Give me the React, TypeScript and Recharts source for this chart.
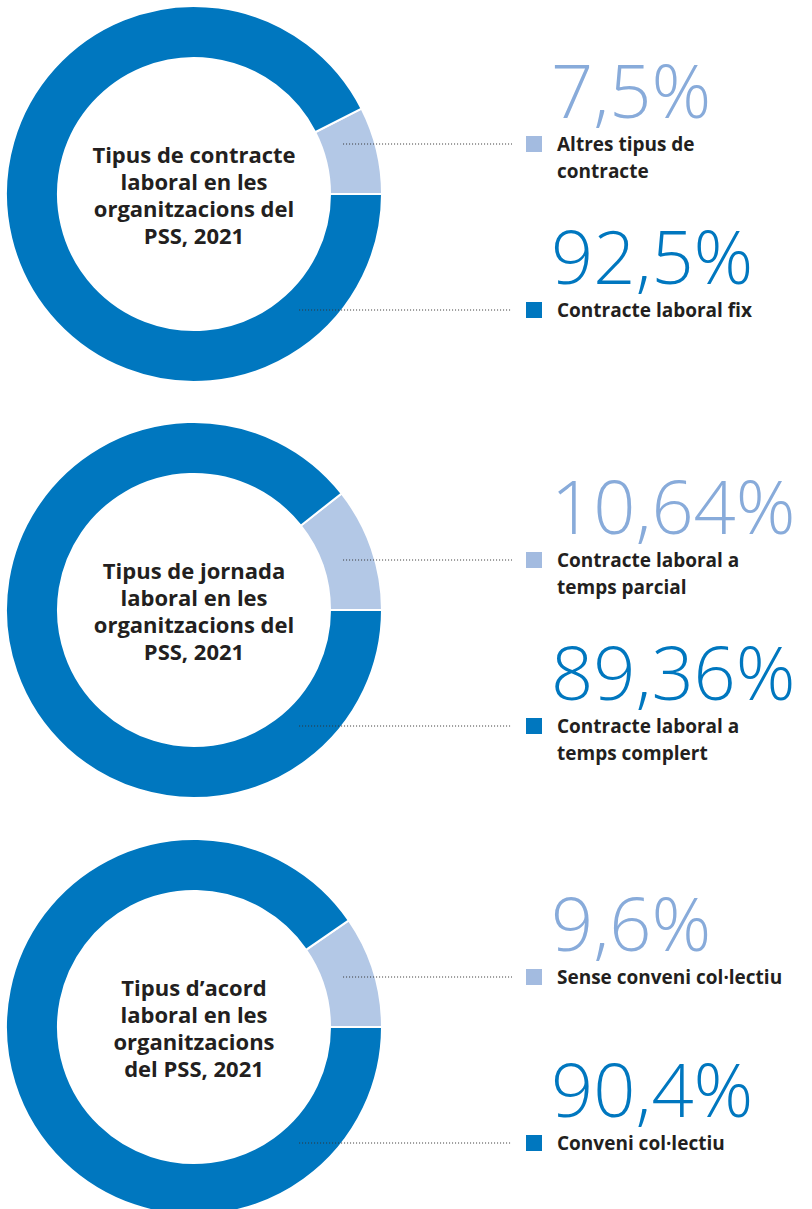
import { Cell, Pie, PieChart } from 'recharts'

// Tipus de contracte
const contracteTitle = ['Tipus de contracte', 'laboral en les', 'organitzacions del', 'PSS, 2021']
const contracteNames = [['Altres tipus de', 'contracte'], ['Contracte laboral fix']]
const contracteValues = [7.5, 92.5]

// Tipus de jornada
const jornadaTitle = ['Tipus de jornada', 'laboral en les', 'organitzacions del', 'PSS, 2021']
const jornadaNames = [['Contracte laboral a', 'temps parcial'], ['Contracte laboral a', 'temps complert']]
const jornadaValues = [10.64, 89.36]

// Tipus d'acord
const acordTitle = ['Tipus d’acord', 'laboral en les', 'organitzacions', 'del PSS, 2021']
const acordNames = [['Sense conveni col·lectiu'], ['Conveni col·lectiu']]
const acordValues = [9.6, 90.4]

const SLICE = ['#b3c8e6', '#0077bf']
const NUMBER = ['#88abda', '#0077bf']
const SQUARE = ['#a3bbe0', '#0077bf']
const INK = '#231f20'
const FONT = '"Open Sans", "DejaVu Sans", sans-serif'

const fmt = (v: number) => String(v).replace('.', ',') + '%'

function makeLabel(title: string[], names: string[][]) {
  return (props: any) => {
    const { cx, cy, index, value, innerRadius, outerRadius } = props
    const light = index === 0
    // ligne pointillée : au-dessus du centre pour la petite part, en dessous pour la grande
    const lineY = light ? cy - 50 : cy + 116
    const midR = (innerRadius + outerRadius) / 2
    const startX = cx + Math.sqrt(Math.max(midR * midR - (lineY - cy) ** 2, 0)) - (light ? 5 : 8)
    return (
      <g>
        {light &&
          title.map((t, i) => (
            <text
              key={t}
              x={cx}
              y={cy - 31 + i * 27}
              textAnchor="middle"
              fontFamily={FONT}
              fontWeight={700}
              fontSize={22}
              fill={INK}
            >
              {t}
            </text>
          ))}
        <line
          x1={startX}
          x2={cx + 318}
          y1={lineY}
          y2={lineY}
          stroke="#333"
          strokeWidth={1}
          strokeDasharray="1 2"
        />
        <text
          x={cx + 357}
          y={lineY - 26}
          fontFamily={FONT}
          fontWeight={300}
          fontSize={74}
          fill={NUMBER[index]}
        >
          {fmt(value)}
        </text>
        <rect x={cx + 332} y={lineY - 8} width={16} height={16} fill={SQUARE[index]} />
        {names[index].map((n, i) => (
          <text
            key={i}
            x={cx + 363}
            y={lineY + 7 + i * 27}
            fontFamily={FONT}
            fontWeight={700}
            fontSize={19}
            fill={INK}
          >
            {n}
          </text>
        ))}
      </g>
    )
  }
}

const rows = [
  { title: contracteTitle, names: contracteNames, values: contracteValues, cy: 194 },
  { title: jornadaTitle, names: jornadaNames, values: jornadaValues, cy: 610 },
  { title: acordTitle, names: acordNames, values: acordValues, cy: 1027 },
]

export default function App() {
  return (
    <div style={{ position: 'absolute', left: 0, top: 0, width: 812, height: 1209, background: '#fff' }}>
      <PieChart width={812} height={1209} margin={{ top: 0, right: 0, bottom: 0, left: 0 }}>
        {rows.map((row, r) => (
          <Pie
            key={r}
            data={row.values.map((v, i) => ({ name: row.names[i].join(' '), value: v }))}
            dataKey="value"
            cx={194}
            cy={row.cy}
            innerRadius={136}
            outerRadius={188}
            startAngle={0}
            endAngle={360}
            stroke="#fff"
            strokeWidth={2}
            labelLine={false}
            label={makeLabel(row.title, row.names)}
            isAnimationActive={false}
          >
            {row.values.map((_, i) => (
              <Cell key={i} fill={SLICE[i]} />
            ))}
          </Pie>
        ))}
      </PieChart>
    </div>
  )
}
